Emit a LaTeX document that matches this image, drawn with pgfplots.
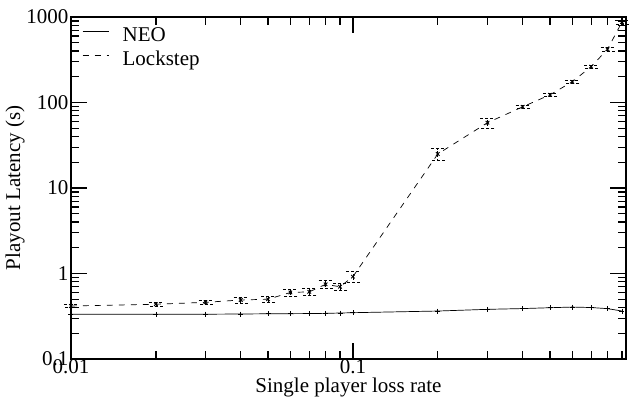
\documentclass[border=0pt]{standalone}
\usepackage{pgfplots}
\pgfplotsset{compat=1.18}
\usepackage{fontspec}
\setmainfont{Liberation Serif}
\usetikzlibrary{calc}
\begin{document}
\begin{tikzpicture}[font=\fontsize{21bp}{23bp}\selectfont]
\begin{axis}[
  scale only axis,
  width=555bp, height=342bp,
  xmode=log, ymode=log,
  xmin=0.01, xmax=0.93,
  ymin=0.1, ymax=1000,
  clip=false,
  axis line style={line width=1.6bp},
  tick style={line width=1.3bp, black},
  major tick length=16bp,
  minor tick length=8bp,
  tick align=inside,
  xtick={0.01,0.1},
  xticklabels={0.01,0.1},
  minor xtick={0.02,0.03,0.04,0.05,0.06,0.07,0.08,0.09,0.2,0.3,0.4,0.5,0.6,0.7,0.8,0.9},
  ytick={0.1,1,10,100,1000},
  yticklabels={0.1,1,10,100,1000},
  log origin=infty,
  /pgf/number format/assume math mode=true,
  xticklabel style={font=\fontsize{21bp}{23bp}\selectfont, yshift=3bp},
  yticklabel style={font=\fontsize{21bp}{23bp}\selectfont, xshift=1bp},
  xlabel={Single player loss rate},
  ylabel={Playout Latency (s)},
  label style={font=\fontsize{21bp}{23bp}\selectfont},
  xlabel style={yshift=3bp},
  ylabel style={yshift=-5bp},
  legend style={draw=none, fill=none, at={(0.02,0.975)}, anchor=north west,
    font=\fontsize{21bp}{23bp}\selectfont, row sep=4bp, inner sep=0pt},
  legend cell align=left,
  legend image post style={mark=none},
  legend image code/.code={\draw[#1] (0bp,4bp) -- (26bp,4bp); \path[draw=none] (0bp,0bp) -- (38bp,0bp);},
]
\addplot[black, line width=0.7bp, mark=+, mark size=2.5bp, mark options={solid}] coordinates {
(0.01,0.333) (0.02,0.333) (0.03,0.334) (0.04,0.336) (0.05,0.338) (0.06,0.339) (0.07,0.340)
(0.08,0.342) (0.09,0.345) (0.1,0.348) (0.2,0.364) (0.3,0.381) (0.4,0.389) (0.5,0.398)
(0.6,0.405) (0.7,0.400) (0.8,0.388) (0.9,0.364)
};
\addlegendentry{NEO}
\addplot[black, line width=0.7bp, dash pattern=on 6bp off 6bp, mark=x, mark size=2.5bp, mark options={solid, line width=0.9bp},
  error bars/.cd, y dir=both, y explicit relative,
  error bar style={line width=0.7bp, dash pattern=on 3bp off 2bp},
  error mark options={rotate=90, mark size=7bp, line width=0.7bp, dash pattern=on 3bp off 2bp}]
  coordinates {
(0.01,0.417) +- (0,0.04)
(0.02,0.437) +- (0,0.05)
(0.03,0.46) +- (0,0.06)
(0.04,0.49) +- (0,0.08)
(0.05,0.50) +- (0,0.08)
(0.06,0.60) +- (0,0.10)
(0.07,0.61) +- (0,0.10)
(0.08,0.747) +- (0,0.10)
(0.09,0.70) +- (0,0.10)
(0.1,0.92) +- (0,0.15)
(0.2,25) +- (0,0.15)
(0.3,58) +- (0,0.14)
(0.4,89) +- (0,0.04)
(0.5,123) +- (0,0.04)
(0.6,175) +- (0,0.04)
(0.7,263) +- (0,0.04)
(0.8,420) +- (0,0.05)
(0.9,875) +- (0,0.05)
};
\addlegendentry{Lockstep}
\end{axis}
\useasboundingbox ($(current axis.south west)+(-71bp,-46bp)$) rectangle ($(current axis.north east)+(11bp,17bp)$);
\end{tikzpicture}
\end{document}
